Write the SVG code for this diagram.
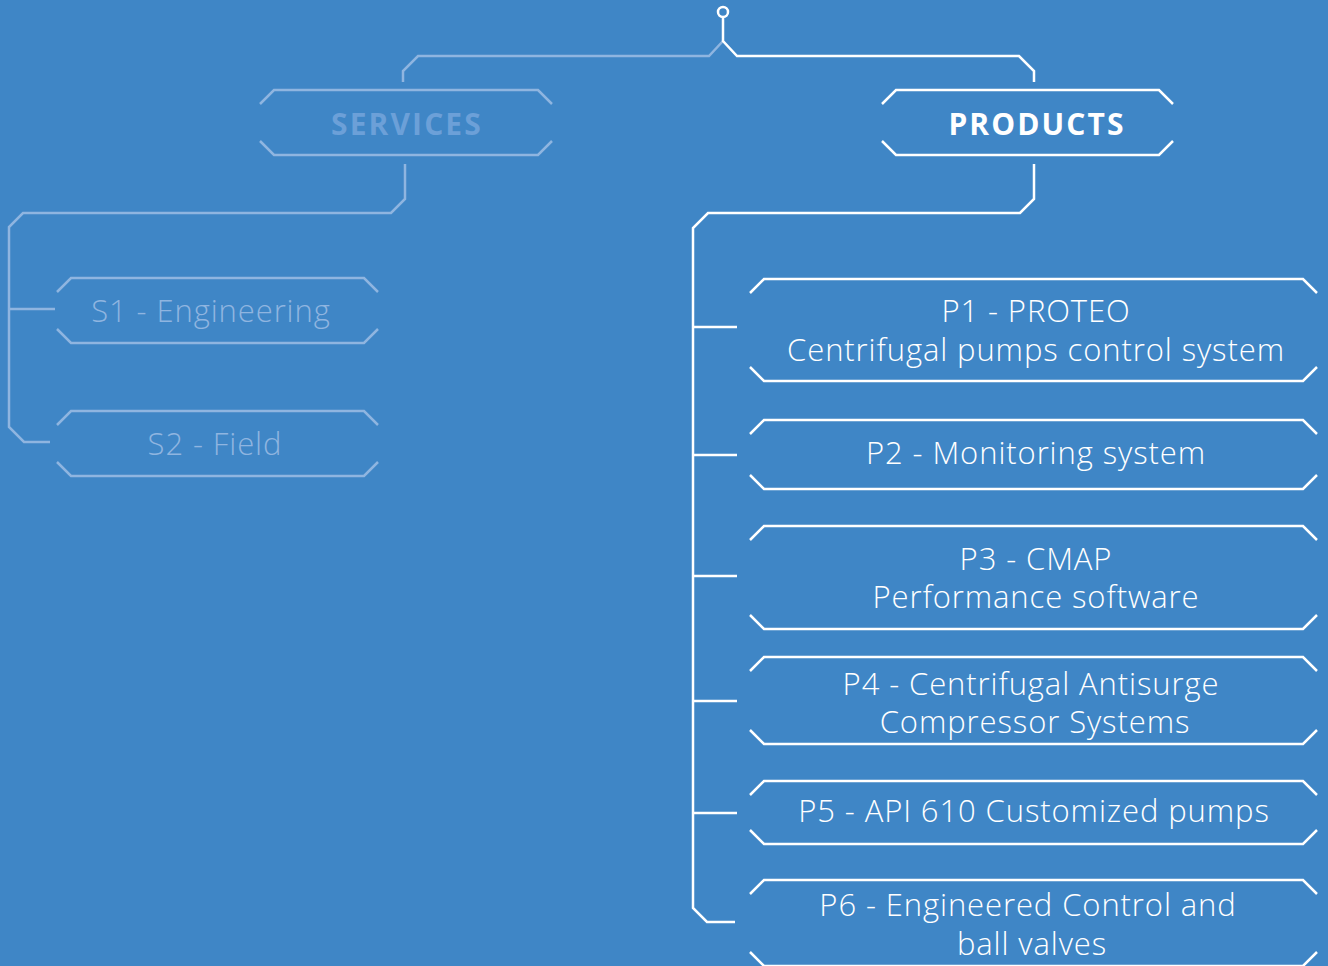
<svg xmlns="http://www.w3.org/2000/svg" width="1328" height="966" viewBox="0 0 1328 966">
<style>
.ln{fill:none;stroke:#ffffff;stroke-width:2.5;stroke-linejoin:miter}
.lnS{fill:none;stroke:#8fb5e0;stroke-width:2.5}
.t{font-family:"Open Sans","Noto Sans",sans-serif;font-weight:300;font-size:31px;fill:#ffffff;text-anchor:middle;letter-spacing:0.9px}
.tS{font-family:"Open Sans","Noto Sans",sans-serif;font-weight:300;font-size:31px;fill:#8fb5e0;text-anchor:middle;letter-spacing:0.9px}
.h{font-family:"Open Sans","Noto Sans",sans-serif;font-weight:700;font-size:30px;fill:#ffffff;text-anchor:middle;letter-spacing:2.1px}
.hS{font-family:"Open Sans","Noto Sans",sans-serif;font-weight:700;font-size:30px;fill:#6ca0d8;text-anchor:middle;letter-spacing:2.1px}
</style>
<rect x="0" y="0" width="1328" height="966" fill="#3f86c6"/>
<g id="connectors">
<path class="lnS" d="M723,41 L709,56 L418,56 L403,71 L403,82"/>
<path class="ln" d="M723,18 L723,41 L737,56 L1019,56 L1034,71 L1034,82"/>
<circle cx="723" cy="12" r="5" fill="none" stroke="#ffffff" stroke-width="2.5"/>
<path class="lnS" d="M405,164 L405,199 L391,213 L23,213 L9,227 L9,427 L24,442 L50,442"/>
<path class="lnS" d="M9,309 L55,309"/>
<path class="ln" d="M1034,164 L1034,199 L1020,213 L708,213 L693,228 L693,908 L707,922 L735,922"/>
<path class="ln" d="M693,327 L737,327 M693,455 L737,455 M693,576 L737,576 M693,701 L737,701 M693,813 L737,813"/>
</g>
<g id="services">
<path class="lnS" d="M260,104 L274,90 L538,90 L552,104 M260,141 L274,155 L538,155 L552,141"/>
<text class="hS" x="407" y="135">SERVICES</text>
</g>
<g id="products">
<path class="ln" d="M882,104 L896,90 L1159,90 L1173,104 M882,141 L896,155 L1159,155 L1173,141"/>
<text class="h" x="1037" y="135">PRODUCTS</text>
</g>
<g id="s1">
<path class="lnS" d="M57,292 L71,278 L364,278 L378,292 M57,329 L71,343 L364,343 L378,329"/>
<text class="tS" x="211" y="322">S1 - Engineering</text>
</g>
<g id="s2">
<path class="lnS" d="M57,425 L71,411 L364,411 L378,425 M57,462 L71,476 L364,476 L378,462"/>
<text class="tS" x="215" y="455">S2 - Field</text>
</g>
<g id="p1">
<path class="ln" d="M750,293 L764,279 L1303,279 L1317,293 M750,367 L764,381 L1303,381 L1317,367"/>
<text class="t" x="1036" y="322">P1 - PROTEO</text>
<text class="t" x="1036" y="361">Centrifugal pumps control system</text>
</g>
<g id="p2">
<path class="ln" d="M750,434 L764,420 L1303,420 L1317,434 M750,475 L764,489 L1303,489 L1317,475"/>
<text class="t" x="1036" y="464">P2 - Monitoring system</text>
</g>
<g id="p3">
<path class="ln" d="M750,540 L764,526 L1303,526 L1317,540 M750,615 L764,629 L1303,629 L1317,615"/>
<text class="t" x="1036" y="570">P3 - CMAP</text>
<text class="t" x="1036" y="608">Performance software</text>
</g>
<g id="p4">
<path class="ln" d="M750,671 L764,657 L1303,657 L1317,671 M750,730 L764,744 L1303,744 L1317,730"/>
<text class="t" x="1031" y="695">P4 - Centrifugal Antisurge</text>
<text class="t" x="1035" y="733">Compressor Systems</text>
</g>
<g id="p5">
<path class="ln" d="M750,795 L764,781 L1303,781 L1317,795 M750,830 L764,844 L1303,844 L1317,830"/>
<text class="t" x="1034" y="822">P5 - API 610 Customized pumps</text>
</g>
<g id="p6">
<path class="ln" d="M750,894 L764,880 L1303,880 L1317,894 M750,952 L764,966 L1303,966 L1317,952"/>
<text class="t" x="1028" y="916">P6 - Engineered Control and</text>
<text class="t" x="1032" y="955">ball valves</text>
</g>
</svg>
